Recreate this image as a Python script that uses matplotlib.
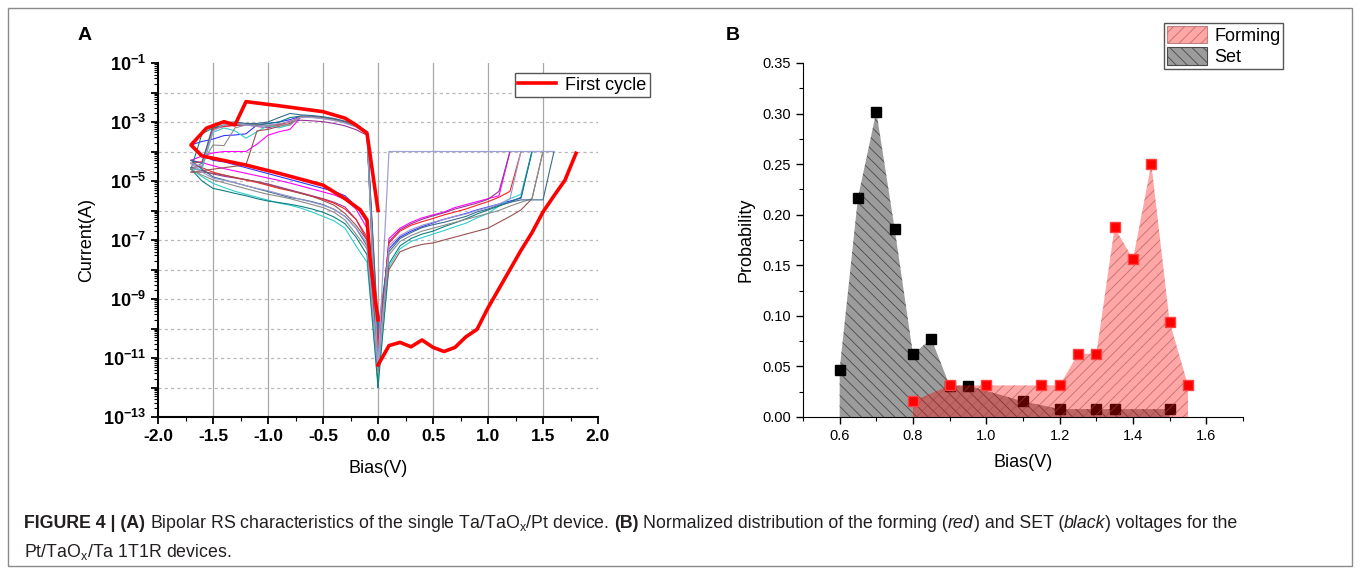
import numpy as np
import matplotlib
matplotlib.use('Agg')
import matplotlib.pyplot as plt
from matplotlib import font_manager
from matplotlib.ticker import MultipleLocator, LogLocator, NullFormatter
from matplotlib.patches import Patch, Rectangle

plt.rcParams['font.family'] = ['Liberation Sans', 'DejaVu Sans']
plt.rcParams['mathtext.fontset'] = 'custom'
plt.rcParams['mathtext.rm'] = 'Liberation Sans'
plt.rcParams['mathtext.bf'] = 'Liberation Sans:bold'
plt.rcParams['mathtext.it'] = 'Liberation Sans:italic'
plt.rcParams['hatch.linewidth'] = 0.6

# ---------------- panel A data (log10 of current) ----------------
v_pos = [0.0, 0.1, 0.2, 0.3, 0.4, 0.5, 0.6, 0.7, 0.8, 0.9, 1.0, 1.1, 1.2, 1.3, 1.4, 1.5, 1.6, 1.7]
v_neg = [0.0, -0.1, -0.2, -0.3, -0.4, -0.5, -0.6, -0.7, -0.8, -0.9, -1.0, -1.1, -1.2, -1.3, -1.4, -1.5, -1.6, -1.7]

cycle_colors = ['#3535ff', '#ff00ff', '#993399', '#ff2020', '#33cccc',
                '#108080', '#9b5050', '#8c8c8c', '#3d6b8c', '#9a9ad0']

# positive sweep (HRS up to SET, last point = compliance)
pos_logi = [
    [-10.5, -7.3, -6.9, -6.7, -6.55, -6.42, -6.3, -6.2, -6.1, -5.98, -5.88, -5.78, -5.68, -5.58, -4.0],
    [-11.0, -6.95, -6.6, -6.4, -6.25, -6.15, -6.05, -5.9, -5.8, -5.7, -5.6, -5.5, -4.0],
    [-10.8, -7.05, -6.65, -6.45, -6.3, -6.18, -6.08, -5.95, -5.85, -5.75, -5.62, -5.35, -4.0],
    [-10.6, -7.1, -6.7, -6.5, -6.38, -6.27, -6.15, -6.05, -5.95, -5.82, -5.7, -5.55, -5.35, -4.0],
    [-11.8, -7.9, -7.3, -7.05, -6.92, -6.8, -6.68, -6.55, -6.43, -6.25, -6.1, -5.85, -5.6, -5.45, -4.0],
    [-12.0, -7.8, -7.2, -6.95, -6.8, -6.7, -6.55, -6.42, -6.28, -6.12, -5.98, -5.85, -5.72, -5.55, -4.0],
    [-10.2, -8.0, -7.4, -7.25, -7.15, -7.1, -7.0, -6.9, -6.8, -6.7, -6.6, -6.4, -6.2, -5.98, -5.6, -4.0],
    [-11.5, -7.5, -7.05, -6.85, -6.7, -6.6, -6.5, -6.4, -6.3, -6.2, -6.1, -6.0, -5.85, -5.72, -5.6, -4.0],
    [-10.0, -7.4, -6.95, -6.75, -6.58, -6.48, -6.4, -6.3, -6.2, -6.05, -5.95, -5.82, -5.72, -5.64, -5.64, -5.64, -4.0],
    [-11.3, -7.2, -6.85, -6.65, -6.5, -6.4, -6.3, -6.2, -6.12, -6.0, -5.9, -5.78, -5.6, -4.0],
]

# negative sweep, low resistance branch (0 -> -1.7 V)
lrs_logi = [
    [-10.5, -3.33, -3.12, -2.99, -2.9, -2.85, -2.81, -2.8, -2.92, -3.0, -3.05, -3.1, -3.4, -3.44, -3.46, -3.58, -3.66, -3.78],
    [-11.0, -3.36, -3.15, -3.02, -2.93, -2.88, -2.84, -2.83, -3.25, -3.33, -3.45, -3.75, -4.0, -4.0, -4.0, -4.05, -4.15, -4.3],
    [-10.8, -3.45, -3.26, -3.13, -3.05, -2.99, -2.96, -2.94, -2.97, -3.1, -3.2, -3.15, -3.1, -3.12, -3.15, -3.2, -4.5, -4.55],
    [-10.6, -3.35, -3.14, -3.01, -2.92, -2.86, -2.82, -2.81, -3.0, -3.08, -3.12, -3.1, -3.08, -3.1, -3.15, -3.25, -4.35, -4.4],
    [-11.8, -3.35, -3.14, -3.01, -2.92, -2.86, -2.82, -2.81, -3.1, -3.2, -3.12, -3.33, -3.55, -3.3, -3.2, -3.35, -4.6, -4.6],
    [-12.0, -3.34, -3.13, -3.0, -2.91, -2.85, -2.81, -2.8, -2.85, -3.0, -3.05, -3.1, -3.08, -3.05, -3.1, -3.2, -3.4, -4.6],
    [-10.2, -3.35, -3.14, -3.01, -2.92, -2.87, -2.83, -2.82, -3.05, -3.15, -3.25, -3.3, -4.45, -4.5, -4.55, -4.6, -4.65, -4.7],
    [-11.5, -3.36, -3.15, -3.02, -2.93, -2.87, -2.83, -2.82, -3.1, -3.1, -3.15, -3.1, -3.1, -3.2, -3.8, -3.78, -4.4, -4.6],
    [-10.0, -3.32, -3.1, -2.97, -2.88, -2.82, -2.78, -2.76, -2.71, -2.85, -3.0, -3.05, -3.05, -3.0, -3.02, -3.1, -4.4, -4.3],
    [-11.3, -3.38, -3.17, -3.04, -2.95, -2.89, -2.85, -2.84, -3.0, -3.05, -3.1, -3.15, -3.1, -3.05, -3.1, -3.3, -4.5, -4.4],
]

# negative sweep, high resistance branch (0 -> -1.7 V)
hrs_logi = [
    [-10.5, -6.4, -5.85, -5.5, -5.35, -5.25, -5.15, -5.05, -4.95, -4.85, -4.75, -4.65, -4.55, -4.45, -4.35, -4.3, -4.1, -3.78],
    [-11.0, -6.6, -5.95, -5.62, -5.47, -5.37, -5.27, -5.17, -5.07, -4.98, -4.9, -4.82, -4.74, -4.66, -4.58, -4.48, -4.38, -4.3],
    [-10.8, -7.0, -6.3, -5.88, -5.72, -5.6, -5.5, -5.4, -5.3, -5.2, -5.1, -5.02, -4.96, -4.9, -4.84, -4.76, -4.65, -4.55],
    [-10.6, -6.9, -6.3, -5.95, -5.75, -5.62, -5.52, -5.42, -5.33, -5.25, -5.15, -5.05, -4.97, -4.88, -4.8, -4.7, -4.55, -4.4],
    [-11.8, -7.75, -7.2, -6.6, -6.35, -6.2, -6.05, -5.92, -5.82, -5.75, -5.65, -5.55, -5.45, -5.35, -5.22, -5.08, -4.85, -4.6],
    [-12.0, -7.5, -6.9, -6.45, -6.22, -6.06, -5.95, -5.86, -5.79, -5.73, -5.68, -5.6, -5.5, -5.42, -5.33, -5.25, -5.0, -4.6],
    [-10.2, -7.0, -6.5, -6.1, -5.82, -5.66, -5.52, -5.42, -5.32, -5.22, -5.12, -5.03, -4.95, -4.88, -4.8, -4.74, -4.7, -4.7],
    [-11.5, -7.3, -6.8, -6.32, -6.06, -5.9, -5.8, -5.7, -5.6, -5.52, -5.45, -5.36, -5.26, -5.16, -5.06, -4.96, -4.8, -4.6],
    [-10.0, -7.2, -6.6, -6.2, -5.96, -5.8, -5.7, -5.62, -5.56, -5.46, -5.36, -5.26, -5.16, -5.06, -4.96, -4.86, -4.6, -4.3],
    [-11.3, -7.1, -6.6, -6.2, -5.96, -5.82, -5.72, -5.63, -5.52, -5.43, -5.33, -5.25, -5.16, -5.06, -4.98, -4.9, -4.7, -4.4],
]

compliance_v = [0.0, 0.1, 1.6]
compliance_logi = [-11.3, -4.0, -4.0]

first_pos_v = [0.0, 0.1, 0.2, 0.3, 0.4, 0.5, 0.6, 0.7, 0.8, 0.9, 1.0, 1.1, 1.2, 1.3, 1.4, 1.5, 1.6, 1.7, 1.8]
first_pos_logi = [-11.24, -10.58, -10.47, -10.62, -10.39, -10.64, -10.78, -10.64, -10.28, -10.03,
                  -9.3, -8.65, -8.0, -7.35, -6.75, -6.05, -5.5, -4.97, -4.06]
first_neg_v = [0.0, -0.1, -0.2, -0.3, -0.5, -0.9, -1.2, -1.3, -1.4, -1.56, -1.7,
               -1.6, -1.2, -0.9, -0.5, -0.3, -0.16, -0.1, -0.07, 0.0]
first_neg_logi = [-6.0, -3.38, -3.1, -2.87, -2.65, -2.45, -2.31, -3.1, -2.99, -3.21, -3.78,
                  -4.15, -4.46, -4.74, -5.14, -5.6, -5.98, -6.32, -7.7, -9.71]

a_xticks = [-2.0, -1.5, -1.0, -0.5, 0.0, 0.5, 1.0, 1.5, 2.0]
a_decades = list(range(-13, 0))

# ---------------- panel B data ----------------
set_bias = [0.6, 0.65, 0.7, 0.75, 0.8, 0.85, 0.9, 0.95, 1.1, 1.2, 1.3, 1.35, 1.5]
set_prob = [0.0469, 0.217, 0.302, 0.186, 0.062, 0.0775, 0.031, 0.031, 0.0155, 0.0078, 0.0078, 0.0078, 0.0078]
form_bias = [0.8, 0.9, 1.0, 1.15, 1.2, 1.25, 1.3, 1.35, 1.4, 1.45, 1.5, 1.55]
form_prob = [0.0156, 0.03125, 0.03125, 0.03125, 0.03125, 0.0625, 0.0625, 0.1875, 0.156, 0.25, 0.094, 0.03125]

W, H = 1360, 571
fig = plt.figure(figsize=(W / 100, H / 100), dpi=100)

# ---------------- panel A ----------------
axA = fig.add_axes([158 / W, 1 - 417 / H, 440 / W, 354 / H])
for color, pos, lrs, hrs in zip(cycle_colors, pos_logi, lrs_logi, hrs_logi):
    axA.plot(v_pos[:len(pos)], 10.0 ** np.array(pos), color=color, lw=0.8)
    axA.plot(v_neg, 10.0 ** np.array(lrs), color=color, lw=0.8)
    axA.plot(v_neg, 10.0 ** np.array(hrs), color=color, lw=0.8)
axA.plot(compliance_v, 10.0 ** np.array(compliance_logi), color='#a0a0d8', lw=0.9)
axA.plot(first_pos_v, 10.0 ** np.array(first_pos_logi), color='#ff0000', lw=2.6, label='First cycle', zorder=5)
axA.plot(first_neg_v, 10.0 ** np.array(first_neg_logi), color='#ff0000', lw=2.6, zorder=5)

axA.set_yscale('log')
axA.set_xlim(-2, 2)
axA.set_ylim(1e-13, 1e-1)
for t in a_xticks[1:-1]:
    axA.axvline(t, color='#a8a8a8', lw=0.9, zorder=0)
for d in a_decades[1:-1]:
    axA.axhline(10.0 ** d, color='#b8b8b8', lw=0.9, ls=(0, (2.5, 2.5)), zorder=0)
axA.set_xticks(a_xticks, [f'{t:.1f}' for t in a_xticks], fontweight='bold', fontsize=12.5)
axA.xaxis.set_minor_locator(MultipleLocator(0.25))
axA.set_yticks([10.0 ** d for d in a_decades],
               [('$\\mathbf{10^{%d}}$' % d) if d % 2 else '' for d in a_decades], fontsize=13)
axA.yaxis.set_minor_locator(LogLocator(base=10, subs=np.arange(2, 10), numticks=200))
axA.yaxis.set_minor_formatter(NullFormatter())
axA.tick_params(which='major', direction='out', length=5, width=1.3)
axA.tick_params(which='minor', direction='out', length=3, width=0.8)
for s in ['top', 'right']:
    axA.spines[s].set_visible(False)
for s in ['left', 'bottom']:
    axA.spines[s].set_linewidth(1.5)
axA.set_xlabel('Bias(V)', fontsize=13, labelpad=12)
axA.set_ylabel('Current(A)', fontsize=13, labelpad=6)
axA.legend(loc='upper right', bbox_to_anchor=(650 / W, 1 - 73 / H), bbox_transform=fig.transFigure,
           fancybox=False, edgecolor='#555555', framealpha=1, fontsize=13, handlelength=2.1,
           borderpad=0.2, handletextpad=0.5, borderaxespad=0)

# ---------------- panel B ----------------
axB = fig.add_axes([803 / W, 1 - 417 / H, 440 / W, 354 / H])
set_face = '#9c9c9c'
set_hatch = '#4a4a4a'
form_face = (1.0, 0.0, 0.0, 0.35)
form_hatch = (0.6, 0.3, 0.3, 0.6)
axB.fill_between(set_bias, set_prob, 0, facecolor=set_face, edgecolor=set_hatch, hatch='\\\\\\', lw=0, zorder=1)
axB.plot(set_bias, set_prob, 's', color='black', ms=6.5, zorder=2)
axB.fill_between(form_bias, form_prob, 0, facecolor=form_face, edgecolor=form_hatch, hatch='///', lw=0, zorder=3)
axB.plot(form_bias, form_prob, 's', color='#ff0000', mec='#ff4040', ms=6.5, zorder=4)
axB.set_xlim(0.5, 1.7)
axB.set_ylim(0, 0.35)
axB.xaxis.set_major_locator(MultipleLocator(0.2))
axB.xaxis.set_minor_locator(MultipleLocator(0.1))
axB.yaxis.set_major_locator(MultipleLocator(0.05))
axB.yaxis.set_minor_locator(MultipleLocator(0.025))
axB.xaxis.set_major_formatter(lambda v, p: f'{v:.1f}')
axB.yaxis.set_major_formatter(lambda v, p: f'{v:.2f}')
axB.tick_params(which='major', direction='out', length=5, width=1, labelsize=10.5)
axB.tick_params(which='minor', direction='out', length=3, width=0.8)
for s in ['top', 'right']:
    axB.spines[s].set_visible(False)
axB.set_xlabel('Bias(V)', fontsize=13, labelpad=8)
axB.set_ylabel('Probability', fontsize=13, labelpad=6)
handles = [Patch(facecolor=form_face, edgecolor=form_hatch, hatch='///', lw=0.8, label='Forming'),
           Patch(facecolor=set_face, edgecolor=set_hatch, hatch='\\\\\\', lw=0.8, label='Set')]
axB.legend(handles=handles, loc='upper right', bbox_to_anchor=(1283 / W, 1 - 23 / H),
           bbox_transform=fig.transFigure, fancybox=False, edgecolor='#555555', framealpha=1,
           fontsize=13, handlelength=2.2, handleheight=1.1, borderpad=0.15, labelspacing=0.15,
           handletextpad=0.4, borderaxespad=0)

fig.text(85 / W, 1 - 35 / H, 'A', fontsize=14, fontweight='bold', ha='center', va='center')
fig.text(733 / W, 1 - 35 / H, 'B', fontsize=14, fontweight='bold', ha='center', va='center')

fig.patches.append(Rectangle((8 / W, 1 - 566 / H), 1344 / W, 558 / H, transform=fig.transFigure,
                             fill=False, edgecolor='#8a8a8a', lw=1))

# ---------------- caption ----------------
names = {f.name for f in font_manager.fontManager.ttflist}
cap_family = 'Liberation Sans Narrow' if 'Liberation Sans Narrow' in names else 'Liberation Sans'
cap_size = 12.8
cap_color = '#231f20'
renderer = fig.canvas.get_renderer()


def text_width(s, **kw):
    t = fig.text(0, 0, s, family=cap_family, size=cap_size, **kw)
    w = t.get_window_extent(renderer).width
    t.remove()
    return w


space_w = text_width('a a') - text_width('aa')


def put_runs(x, y, runs):
    x = x * W
    for s, weight, style in runs:
        if s.startswith(' '):
            x += space_w
        t = fig.text(x / W, y, s.strip(), family=cap_family, size=cap_size, weight=weight,
                     style=style, color=cap_color, va='center', ha='left')
        x += t.get_window_extent(renderer).width
        if s.endswith(' '):
            x += space_w


line1 = [('FIGURE 4 | (A)', 'bold', 'normal'),
         (' Bipolar RS characteristics of the single Ta/TaO$_\\mathregular{x}$/Pt device. ', 'normal', 'normal'),
         ('(B)', 'bold', 'normal'),
         (' Normalized distribution of the forming (', 'normal', 'normal'),
         ('red', 'normal', 'italic'),
         (') and SET (', 'normal', 'normal'),
         ('black', 'normal', 'italic'),
         (') voltages for the', 'normal', 'normal')]
line2 = [('Pt/TaO$_\\mathregular{x}$/Ta 1T1R devices.', 'normal', 'normal')]
put_runs(24 / W, 1 - 524 / H, line1)
put_runs(24 / W, 1 - 552 / H, line2)

fig.savefig('out.png', dpi=100)
